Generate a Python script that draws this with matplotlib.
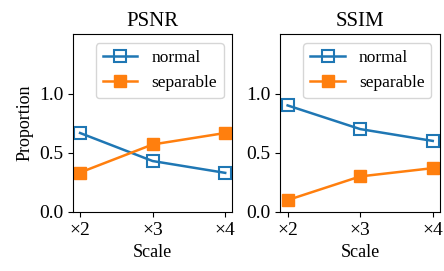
import matplotlib
matplotlib.use("Agg")
import matplotlib.pyplot as plt

plt.rcParams['font.family'] = ['Liberation Serif', 'DejaVu Serif']
plt.rcParams['font.size'] = 13
plt.rcParams['xtick.labelsize'] = 14
plt.rcParams['ytick.labelsize'] = 14

scales = ["×2", "×3", "×4"]
psnr_normal = [0.667, 0.43, 0.33]
psnr_separable = [0.333, 0.57, 0.667]
ssim_normal = [0.9, 0.7, 0.6]
ssim_separable = [0.1, 0.3, 0.37]

panels = [("PSNR", psnr_normal, psnr_separable), ("SSIM", ssim_normal, ssim_separable)]

fig, axes = plt.subplots(1, 2, figsize=(4.44, 2.71), dpi=100)
fig.subplots_adjust(left=0.164, right=0.991, top=0.873, bottom=0.218, wspace=0.30)

x = list(range(len(scales)))
for ax, (title, normal, sep) in zip(axes, panels):
    ax.plot(x, normal, color="tab:blue", marker="s", markersize=8.5, markerfacecolor="none",
            markeredgewidth=1.5, linewidth=1.8, label="normal")
    ax.plot(x, sep, color="tab:orange", marker="s", markersize=8.5, linewidth=1.8, label="separable")
    ax.set_title(title, fontsize=15)
    ax.set_xticks(x)
    ax.set_xticklabels(scales)
    ax.set_yticks([0.0, 0.5, 1.0])
    ax.set_xlim(-0.1, 2.1)
    ax.set_ylim(0, 1.5)
    ax.set_xlabel("Scale")
    ax.legend(loc="upper right", fontsize=12.5)

axes[0].set_ylabel("Proportion")

fig.savefig("out.png", dpi=100)
